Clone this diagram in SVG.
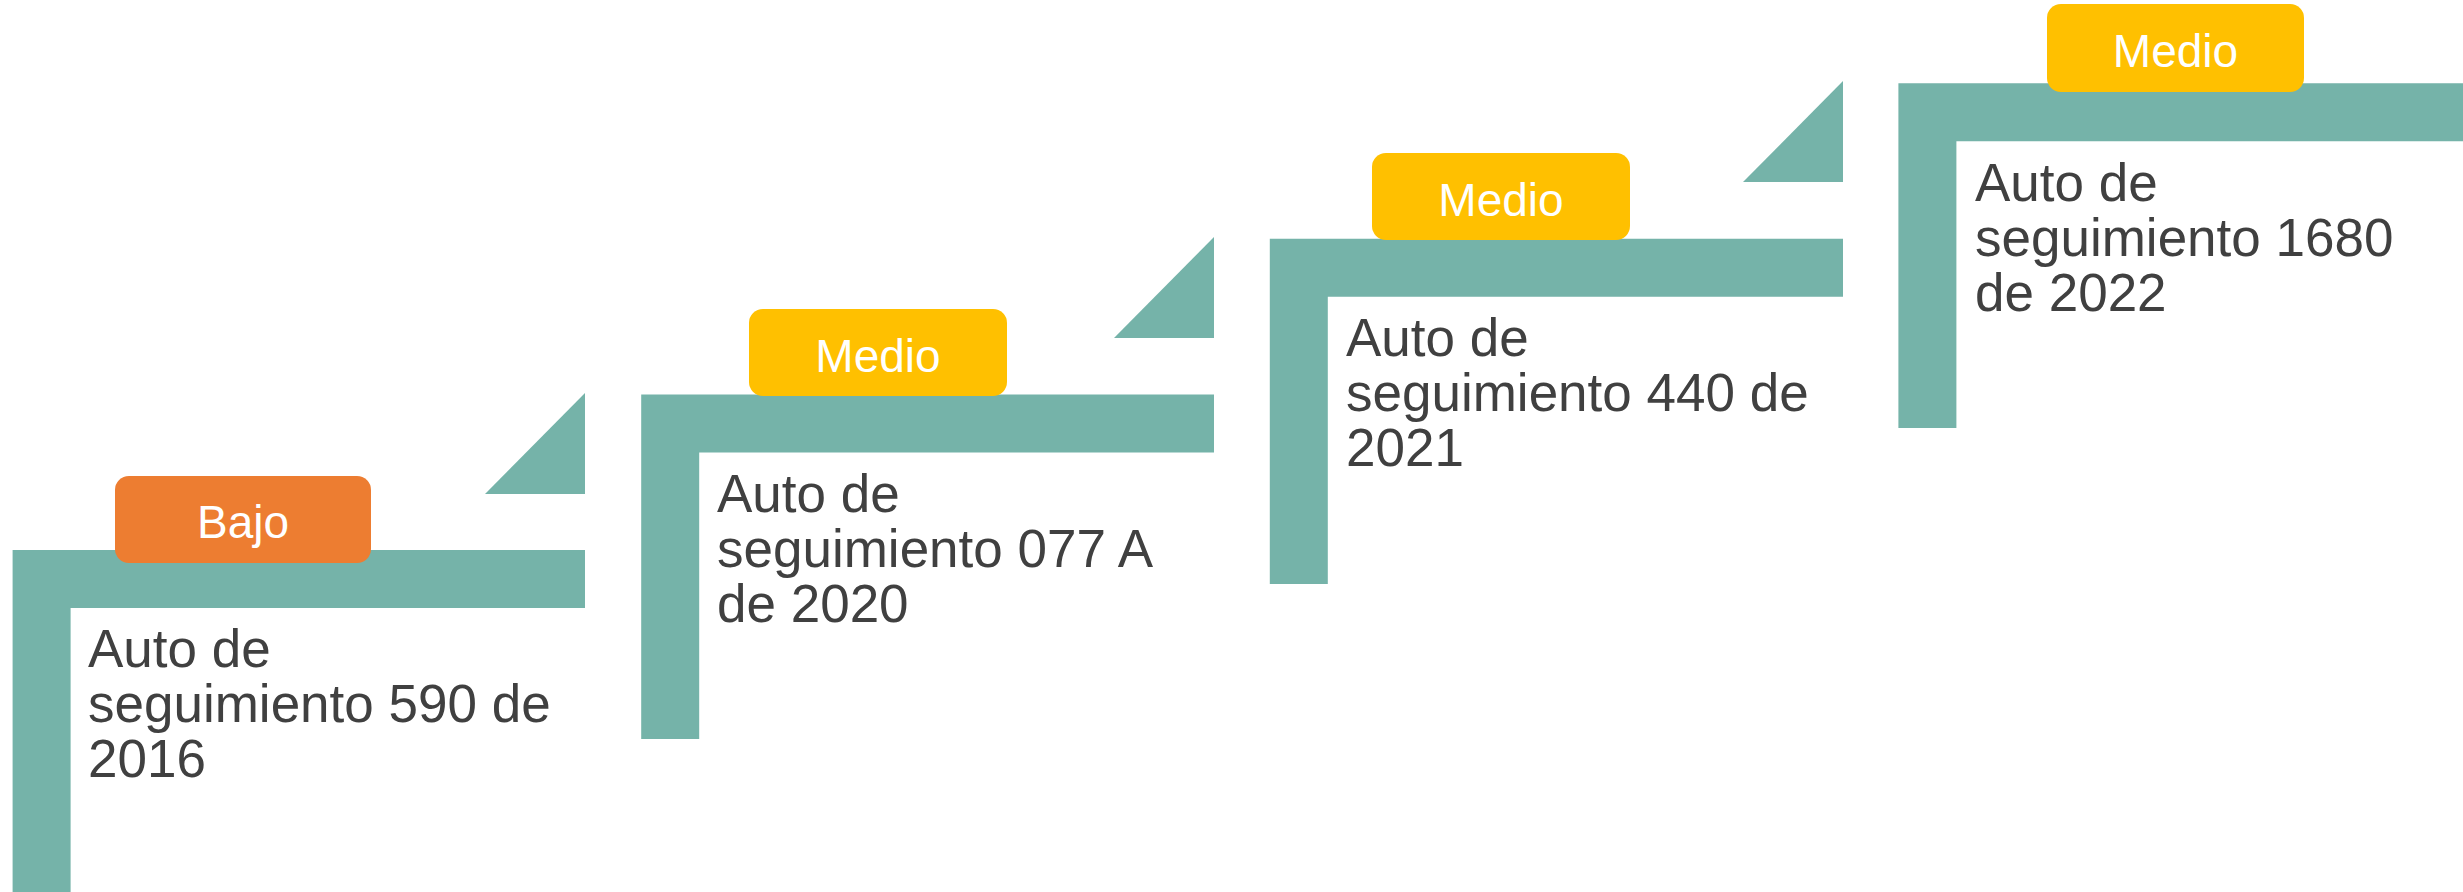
<svg xmlns="http://www.w3.org/2000/svg" width="2463" height="892" viewBox="0 0 2463 892">
<style>
.bar{fill:#75B3A9}
.badge-lo{fill:#ED7D31}
.badge-mid{fill:#FFC000}
.bt{font-family:"Liberation Sans",Arial,sans-serif;font-size:46px;fill:#FFFFFF;text-anchor:middle}
.tx{font-family:"Liberation Sans",Arial,sans-serif;font-size:53px;fill:#404040}
</style>
<rect width="2463" height="892" fill="#FFFFFF"/>
<g id="connectors">
<polygon class="bar" points="485,494 585,393 585,494"/>
<polygon class="bar" points="1114,338 1214,237 1214,338"/>
<polygon class="bar" points="1743,182 1843,81 1843,182"/>
</g>
<g id="step1">
<path class="bar" d="M12.6,550 H585 V608 H70.6 V895 H12.6 Z"/>
<rect class="badge-lo" x="115" y="476" width="256" height="87" rx="14"/>
<text class="bt" x="243" y="538">Bajo</text>
<text class="tx" x="88"><tspan x="88" y="667">Auto de</tspan><tspan x="88" y="722">seguimiento 590 de</tspan><tspan x="88" y="777">2016</tspan></text>
</g>
<g id="step2">
<path class="bar" d="M641.2,394.4 H1214 V452.4 H699.2 V739 H641.2 Z"/>
<rect class="badge-mid" x="749" y="309" width="258" height="87" rx="14"/>
<text class="bt" x="878" y="372">Medio</text>
<text class="tx" x="717"><tspan x="717" y="512">Auto de</tspan><tspan x="717" y="567">seguimiento 077 A</tspan><tspan x="717" y="622">de 2020</tspan></text>
</g>
<g id="step3">
<path class="bar" d="M1269.8,238.8 H1843 V296.8 H1327.8 V584 H1269.8 Z"/>
<rect class="badge-mid" x="1372" y="153" width="258" height="87" rx="14"/>
<text class="bt" x="1501" y="216">Medio</text>
<text class="tx" x="1346"><tspan x="1346" y="356">Auto de</tspan><tspan x="1346" y="411">seguimiento 440 de</tspan><tspan x="1346" y="466">2021</tspan></text>
</g>
<g id="step4">
<path class="bar" d="M1898.4,83.2 H2463 V141.2 H1956.4 V428 H1898.4 Z"/>
<rect class="badge-mid" x="2047" y="4" width="257" height="88" rx="14"/>
<text class="bt" x="2175.5" y="67">Medio</text>
<text class="tx" x="1975"><tspan x="1975" y="201">Auto de</tspan><tspan x="1975" y="256">seguimiento 1680</tspan><tspan x="1975" y="311">de 2022</tspan></text>
</g>
</svg>
